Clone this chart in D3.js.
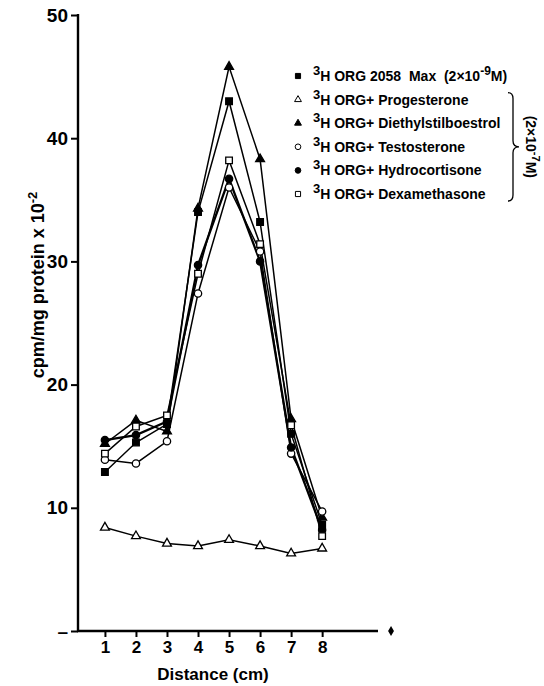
<!DOCTYPE html>
<html>
<head>
<meta charset="utf-8">
<script src="https://cdn.jsdelivr.net/npm/d3@7"></script>
<style>
  body { margin: 0; background: #fff; }
  svg { display: block; font-family: "Liberation Sans", Arial, sans-serif; font-weight: bold; }
</style>
</head>
<body>
<div id="chart"></div>
<script>
// data
const distance = [1, 2, 3, 4, 5, 6, 7, 8];
const orgMax = [12.9, 15.3, 16.8, 34.0, 43.0, 33.2, 16.0, 8.6];
const progesterone = [8.4, 7.7, 7.1, 6.9, 7.4, 6.9, 6.3, 6.7];
const diethylstilboestrol = [15.2, 17.1, 16.2, 34.3, 45.8, 38.3, 17.2, 9.2];
const testosterone = [13.9, 13.6, 15.4, 27.4, 36.0, 30.8, 14.4, 9.7];
const hydrocortisone = [15.5, 15.9, 17.0, 29.7, 36.7, 30.0, 14.9, 8.2];
const dexamethasone = [14.4, 16.6, 17.5, 29.0, 38.2, 31.4, 16.7, 7.7];
const yTicks = [0, 10, 20, 30, 40, 50];

const series = [
  {name: "ORG 2058  Max  (2×10", sup2: "-9", tail: "M)", values: orgMax, marker: "square", fill: true},
  {name: "ORG+ Progesterone", values: progesterone, marker: "triangle", fill: false},
  {name: "ORG+ Diethylstilboestrol", values: diethylstilboestrol, marker: "triangle", fill: true},
  {name: "ORG+ Testosterone", values: testosterone, marker: "circle", fill: false},
  {name: "ORG+ Hydrocortisone", values: hydrocortisone, marker: "circle", fill: true},
  {name: "ORG+ Dexamethasone", values: dexamethasone, marker: "square", fill: false}
];

const width = 544, height = 686;

const svg = d3.select("#chart")
  .append("svg")
    .attr("width", width)
    .attr("height", height);

const x = d3.scaleLinear().domain([0.1, 9.8]).range([77, 378]);
const y = d3.scaleLinear().domain([0, 50]).range([631, 15]);

// Y axis
const yAxis = svg.append("g")
  .attr("transform", `translate(${x(0.1) + 1}, 0)`)
  .call(d3.axisLeft(y).tickValues(yTicks).tickSize(7).tickPadding(3)
    .tickFormat(d => d === 0 ? "–" : d));
yAxis.select(".domain").remove();
yAxis.append("line")
  .attr("x1", 0).attr("x2", 0)
  .attr("y1", y(50) - 1).attr("y2", y(0) + 1)
  .attr("stroke", "#000").attr("stroke-width", 2.4);
yAxis.selectAll(".tick line").attr("stroke-width", 2);
yAxis.selectAll("text")
  .attr("font-size", 19).attr("font-weight", "bold").attr("fill", "#000")
  .attr("font-family", "Liberation Sans, Arial, sans-serif");

// X axis
const xAxis = svg.append("g")
  .attr("transform", `translate(0, ${y(0)})`)
  .call(d3.axisBottom(x).tickValues(distance).tickSize(6).tickPadding(4));
xAxis.select(".domain").remove();
xAxis.append("line")
  .attr("x1", x(0.1)).attr("x2", x(9.8))
  .attr("y1", 0).attr("y2", 0)
  .attr("stroke", "#000").attr("stroke-width", 2.4);
xAxis.selectAll(".tick line").attr("stroke-width", 2);
xAxis.selectAll("text")
  .attr("font-size", 17).attr("font-weight", "bold").attr("fill", "#000")
  .attr("font-family", "Liberation Sans, Arial, sans-serif");
xAxis.append("path")
  .attr("d", d3.symbol(d3.symbolDiamond, 30)())
  .attr("transform", `translate(${x(10.22)}, 0)`)
  .attr("fill", "#000");

// axis titles
svg.append("text")
  .attr("x", 213).attr("y", 680)
  .attr("text-anchor", "middle")
  .attr("font-size", 17)
  .text("Distance (cm)");

const yTitle = svg.append("text")
  .attr("transform", "translate(44, 285) rotate(-90)")
  .attr("text-anchor", "middle")
  .attr("font-size", 18);
yTitle.append("tspan").text("cpm/mg protein x 10");
yTitle.append("tspan").attr("font-size", 13).attr("dy", -7).text("-2");

// markers
const symbolType = {square: d3.symbolSquare, triangle: d3.symbolTriangle, circle: d3.symbolCircle};
const symbolSize = {square: 44, triangle: 34, circle: 42};

const line = d3.line()
  .x((d, i) => x(distance[i]))
  .y(d => y(d));

series.forEach(s => {
  svg.append("path")
    .datum(s.values)
    .attr("d", line)
    .attr("fill", "none")
    .attr("stroke", "#000")
    .attr("stroke-width", s.marker === "circle" && s.fill ? 2.3 : 1.5);
});

series.forEach(s => {
  svg.selectAll(null)
    .data(s.values)
    .join("path")
      .attr("d", d3.symbol(symbolType[s.marker], symbolSize[s.marker]))
      .attr("transform", (d, i) => `translate(${x(distance[i])}, ${y(d)})`)
      .attr("fill", s.fill ? "#000" : "#fff")
      .attr("stroke", "#000")
      .attr("stroke-width", 1.3);
});

// legend
const legend = svg.append("g").attr("transform", "translate(298, 76)");
const rowH = 23.6;
series.forEach((s, i) => {
  const g = legend.append("g").attr("transform", `translate(0, ${i * rowH})`);
  g.append("path")
    .attr("d", d3.symbol(symbolType[s.marker], symbolSize[s.marker] * 0.6)())
    .attr("fill", s.fill ? "#000" : "#fff")
    .attr("stroke", "#000")
    .attr("stroke-width", 1);
  const t = g.append("text").attr("x", 15).attr("y", 5).attr("font-size", 14)
    .style("white-space", "pre");
  t.append("tspan").attr("font-size", 13).attr("dy", -6).text("3");
  t.append("tspan").attr("dy", 6).text("H " + s.name);
  if (s.sup2) {
    t.append("tspan").attr("font-size", 12).attr("dy", -6).text(s.sup2);
    t.append("tspan").attr("dy", 6).text(s.tail);
  }
});

// bracket for the (2x10-7 M) group
const bx = 513, by0 = 76 + rowH - 7, by1 = 76 + 5 * rowH + 7, bm = (by0 + by1) / 2;
svg.append("path")
  .attr("d", `M${bx - 5},${by0} Q${bx},${by0} ${bx},${by0 + 6} L${bx},${bm - 6} Q${bx},${bm} ${bx + 6},${bm}
              Q${bx},${bm} ${bx},${bm + 6} L${bx},${by1 - 6} Q${bx},${by1} ${bx - 5},${by1}`)
  .attr("fill", "none")
  .attr("stroke", "#000")
  .attr("stroke-width", 1.3);

const grp = svg.append("text")
  .attr("transform", `translate(526, ${bm}) rotate(90)`)
  .attr("text-anchor", "middle")
  .attr("font-size", 14);
grp.append("tspan").text("(2×10");
grp.append("tspan").attr("font-size", 11).attr("dy", -6).text("-7");
grp.append("tspan").attr("dy", 6).text("M)");
</script>
</body>
</html>
